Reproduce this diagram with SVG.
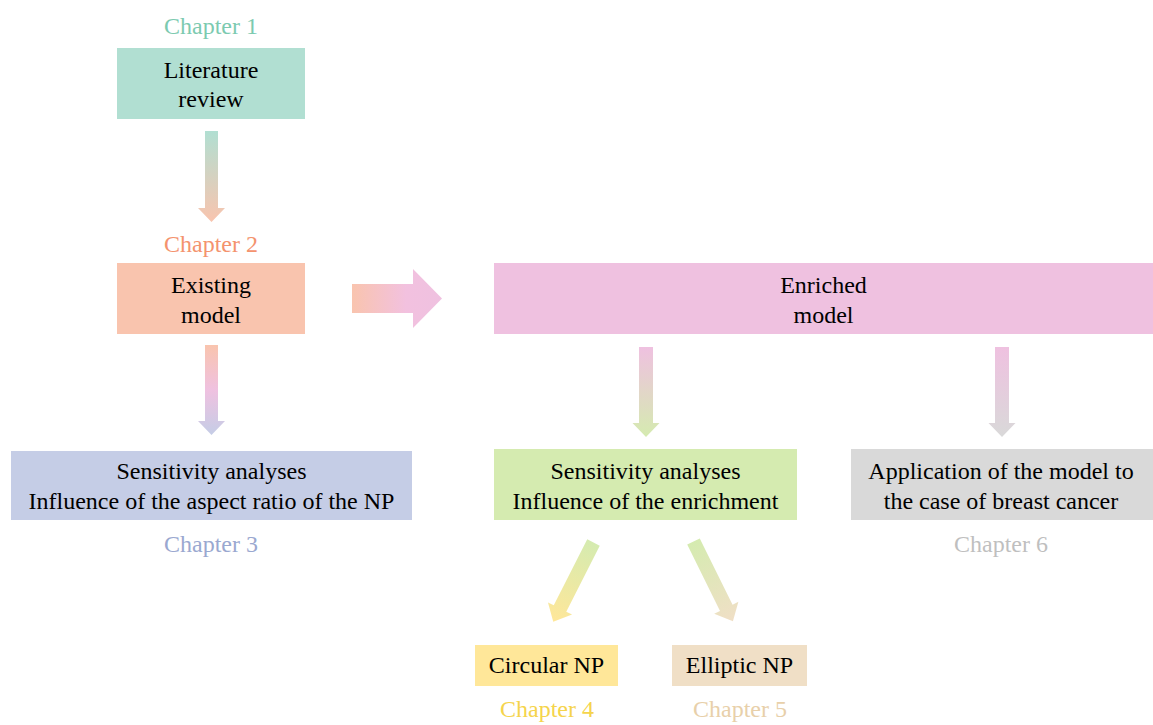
<svg xmlns="http://www.w3.org/2000/svg" width="1153" height="725" viewBox="0 0 1153 725">
<defs>
<linearGradient id="gTealSalmon" x1="0" y1="0" x2="0" y2="1"><stop offset="0" stop-color="#b1dfd2"/><stop offset="1" stop-color="#f9c4ae"/></linearGradient>
<linearGradient id="gSalmonPink" x1="0" y1="0" x2="1" y2="0"><stop offset="0" stop-color="#f9c4ae"/><stop offset="0.6" stop-color="#f2c1df"/><stop offset="1" stop-color="#efc1e0"/></linearGradient>
<linearGradient id="gSalmonLav" x1="0" y1="0" x2="0" y2="1"><stop offset="0" stop-color="#f9c4ae"/><stop offset="0.5" stop-color="#efc1e0"/><stop offset="1" stop-color="#c5cde6"/></linearGradient>
<linearGradient id="gPinkGreen" x1="0" y1="0" x2="0" y2="1"><stop offset="0" stop-color="#efc1e0"/><stop offset="1" stop-color="#d5ebb0"/></linearGradient>
<linearGradient id="gPinkGray" x1="0" y1="0" x2="0" y2="1"><stop offset="0" stop-color="#efc1e0"/><stop offset="1" stop-color="#d9d9d9"/></linearGradient>
<linearGradient id="gGreenYellow" x1="0" y1="0" x2="0" y2="1"><stop offset="0" stop-color="#d5ebb0"/><stop offset="1" stop-color="#ffe799"/></linearGradient>
<linearGradient id="gGreenTan" x1="0" y1="0" x2="0" y2="1"><stop offset="0" stop-color="#d5ebb0"/><stop offset="1" stop-color="#f0dfc6"/></linearGradient>
</defs>
<style>
text { font-family: 'Liberation Serif', serif; font-size: 24px; text-anchor: middle; }
.t { fill: #000; }
</style>
<rect width="1153" height="725" fill="#ffffff"/>

<g id="connectors">
  <polygon points="205,131 218,131 218,208 225,208 211.5,222 198,208 205,208" fill="url(#gTealSalmon)"/>
  <polygon points="352,284 413,284 413,269 442,298.5 413,328 413,313 352,313" fill="url(#gSalmonPink)"/>
  <polygon points="205,345 218,345 218,421 225,421 211.5,435 198,421 205,421" fill="url(#gSalmonLav)"/>
  <polygon points="639,347 653,347 653,423 659.5,423 646,437 632.5,423 639,423" fill="url(#gPinkGreen)"/>
  <polygon points="995,347 1009,347 1009,423 1015.5,423 1002,437 988.5,423 995,423" fill="url(#gPinkGray)"/>
  <g transform="translate(593.5,542.5) rotate(26.9)">
    <polygon points="-7,0 7,0 7,74 13.5,74 0,89 -13.5,74 -7,74" fill="url(#gGreenYellow)"/>
  </g>
  <g transform="translate(693.5,541.5) rotate(-26.3)">
    <polygon points="-7,0 7,0 7,74 13.5,74 0,89 -13.5,74 -7,74" fill="url(#gGreenTan)"/>
  </g>
</g>

<g id="literature" font-family="Liberation Serif, serif">
  <text x="211" y="34" fill="#7ccab0">Chapter 1</text>
  <rect x="117" y="48" width="188" height="71" fill="#b1dfd2"/>
  <text class="t" x="211" y="78">Literature</text>
  <text class="t" x="211" y="107">review</text>
</g>

<g id="existing">
  <text x="211" y="252" fill="#f4936e">Chapter 2</text>
  <rect x="117" y="263" width="188" height="71" fill="#f9c4ae"/>
  <text class="t" x="211" y="293">Existing</text>
  <text class="t" x="211" y="323">model</text>
</g>

<g id="enriched">
  <rect x="494" y="263" width="659" height="71" fill="#efc1e0"/>
  <text class="t" x="823.5" y="293">Enriched</text>
  <text class="t" x="823.5" y="323">model</text>
</g>

<g id="sens1">
  <rect x="11" y="451" width="401" height="69" fill="#c5cde6"/>
  <text class="t" x="211.5" y="479">Sensitivity analyses</text>
  <text class="t" x="211.5" y="509">Influence of the aspect ratio of the NP</text>
  <text x="211" y="552" fill="#9aa8d0">Chapter 3</text>
</g>

<g id="sens2">
  <rect x="494" y="449" width="303" height="71" fill="#d5ebb0"/>
  <text class="t" x="645.5" y="479">Sensitivity analyses</text>
  <text class="t" x="645.5" y="509">Influence of the enrichment</text>
</g>

<g id="application">
  <rect x="851" y="449" width="302" height="71" fill="#d9d9d9"/>
  <text class="t" x="1001" y="479">Application of the model to</text>
  <text class="t" x="1001" y="509">the case of breast cancer</text>
  <text x="1001" y="552" fill="#bfbfbf">Chapter 6</text>
</g>

<g id="circular">
  <rect x="475" y="645" width="143" height="41" fill="#ffe799"/>
  <text class="t" x="546.5" y="673">Circular NP</text>
  <text x="547" y="717" fill="#f5d44c">Chapter 4</text>
</g>

<g id="elliptic">
  <rect x="672" y="645" width="135" height="41" fill="#f0dfc6"/>
  <text class="t" x="739.5" y="673">Elliptic NP</text>
  <text x="740" y="717" fill="#e8d0aa">Chapter 5</text>
</g>
</svg>
